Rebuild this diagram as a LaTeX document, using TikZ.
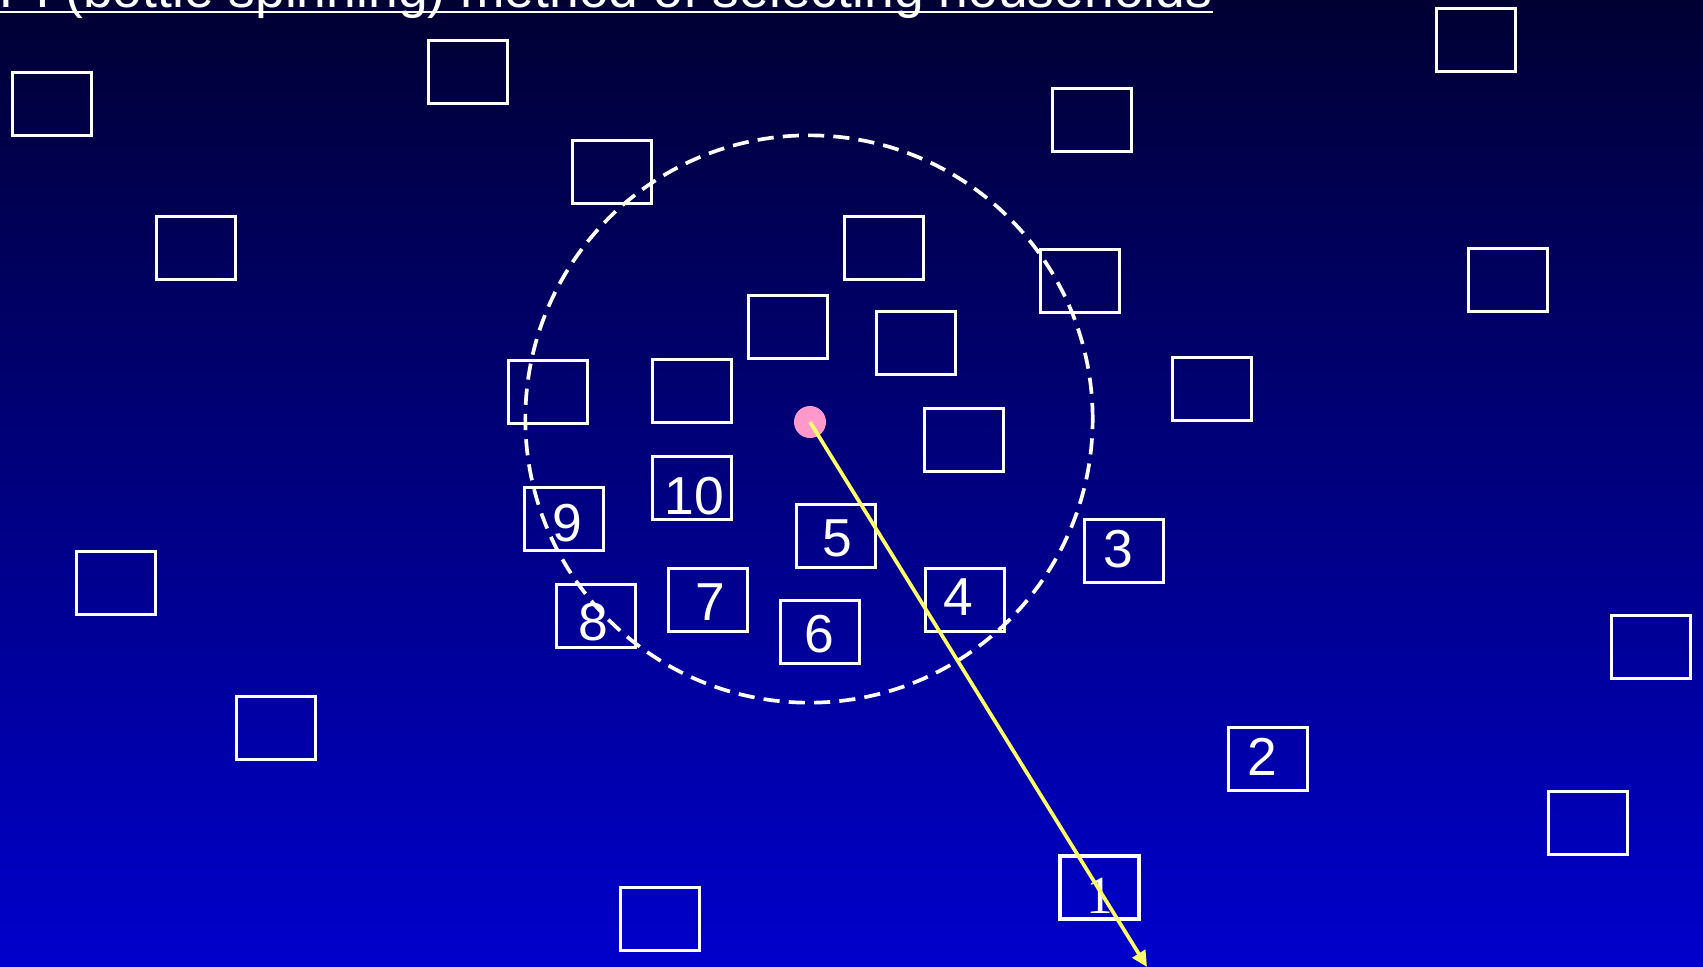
\documentclass[tikz,border=0pt]{standalone}
\usepackage{fontspec}
\setmainfont{Liberation Sans}
\newfontfamily\oneserif{Liberation Serif}
\usepackage{xcolor}
\usepackage{tikz}
\usetikzlibrary{arrows.meta, shapes.geometric, positioning}

\definecolor{navytop}{RGB}{0,0,51}
\definecolor{bluebottom}{RGB}{0,0,204}
\definecolor{dotpink}{RGB}{255,153,204}
\definecolor{spinyellow}{RGB}{255,255,102}

\begin{document}
\begin{tikzpicture}[x=0.01cm, y=-0.01cm]
	% Styles
	\tikzstyle{house} = [draw=white, line width=1.05pt, rectangle, minimum width=0.79cm, minimum height=0.63cm, inner sep=0pt]
	\tikzstyle{num} = [text=white, inner sep=0pt, font=\fontsize{15.2}{18}\selectfont]
	\tikzstyle{reach} = [draw=white, line width=1.05pt, dash pattern=on 4.6pt off 2.6pt, circle, minimum size=5.67cm, inner sep=0pt]
	\tikzstyle{bottle} = [fill=dotpink, circle, minimum size=0.32cm, inner sep=0pt]
	\tikzstyle{arrow} = [draw=spinyellow, line width=1.05pt, -{Triangle[length=4.5pt, width=4.2pt]}]

	% Frame
	\useasboundingbox (0,0) rectangle (1703,966);
	\clip (0,0) rectangle (1703,966);
	\shade [top color=navytop, bottom color=bluebottom] (0,0) rectangle (1703,966);

	% Households
	\node (o1) [house] at (52,104) {};
	\node (o2) [house] at (468,72) {};
	\node (o3) [house] at (1476,40) {};
	\node (o4) [house] at (612,172) {};
	\node (o5) [house] at (1092,120) {};
	\node (o6) [house] at (196,248) {};
	\node (o7) [house] at (884,248) {};
	\node (o8) [house] at (1080,281) {};
	\node (o9) [house] at (1508,280) {};
	\node (o10) [house] at (788,327) {};
	\node (o11) [house] at (916,343) {};
	\node (o12) [house] at (548,392) {};
	\node (o13) [house] at (692,391) {};
	\node (o14) [house] at (1212,389) {};
	\node (o15) [house] at (964,440) {};
	\node (o16) [house] at (116,583) {};
	\node (o17) [house] at (1651,647) {};
	\node (o18) [house] at (276,728) {};
	\node (o19) [house] at (1588,823) {};
	\node (o20) [house] at (660,919) {};

	% Visited households
	\node (h1) [house] at (1099.5,887.5) {};
	\node (h2) [house] at (1268,759) {};
	\node (h3) [house] at (1124,551) {};
	\node (h4) [house] at (965,600) {};
	\node (h5) [house] at (836,536) {};
	\node (h6) [house] at (820,632) {};
	\node (h7) [house] at (708,600) {};
	\node (h8) [house] at (596,616) {};
	\node (h9) [house] at (564,519) {};
	\node (h10) [house] at (692,488) {};

	\node (n1) [num, font=\oneserif\fontsize{15.2}{18}\selectfont] at ([shift={(0.5,8.5)}]h1) {1};
	\node (n2) [num] at ([shift={(-5.5,-2.3)}]h2) {2};
	\node (n3) [num] at ([shift={(-5.7,-1.8)}]h3) {3};
	\node (n4) [num] at ([shift={(-7,-3.3)}]h4) {4};
	\node (n5) [num] at ([shift={(1.8,2.3)}]h5) {5};
	\node (n6) [num] at ([shift={(-0.3,1.8)}]h6) {6};
	\node (n7) [num] at ([shift={(2,1.7)}]h7) {7};
	\node (n8) [num] at ([shift={(-2.7,5.7)}]h8) {8};
	\node (n9) [num] at ([shift={(3,4.3)}]h9) {9};
	\node (n10) [num] at ([shift={(2.5,7.8)}]h10) {10};

	% Centre and spin
	\node (area) [reach] at (809,419) {};
	\node (dot) [bottle] at (810,422) {};
	\coordinate (tip) at (1147,967);
	\draw [arrow] (dot.center) -- (tip);

	% Title
	\node (title) [text=white, inner sep=0pt, anchor=base east, font=\fontsize{15.2}{18}\selectfont] at (1213,7) {EPI (bottle spinning) method of selecting households};
	\draw [white, line width=0.6pt] ([yshift=-1.42pt]title.base west) -- ([yshift=-1.42pt]title.base east);
\end{tikzpicture}
\end{document}
